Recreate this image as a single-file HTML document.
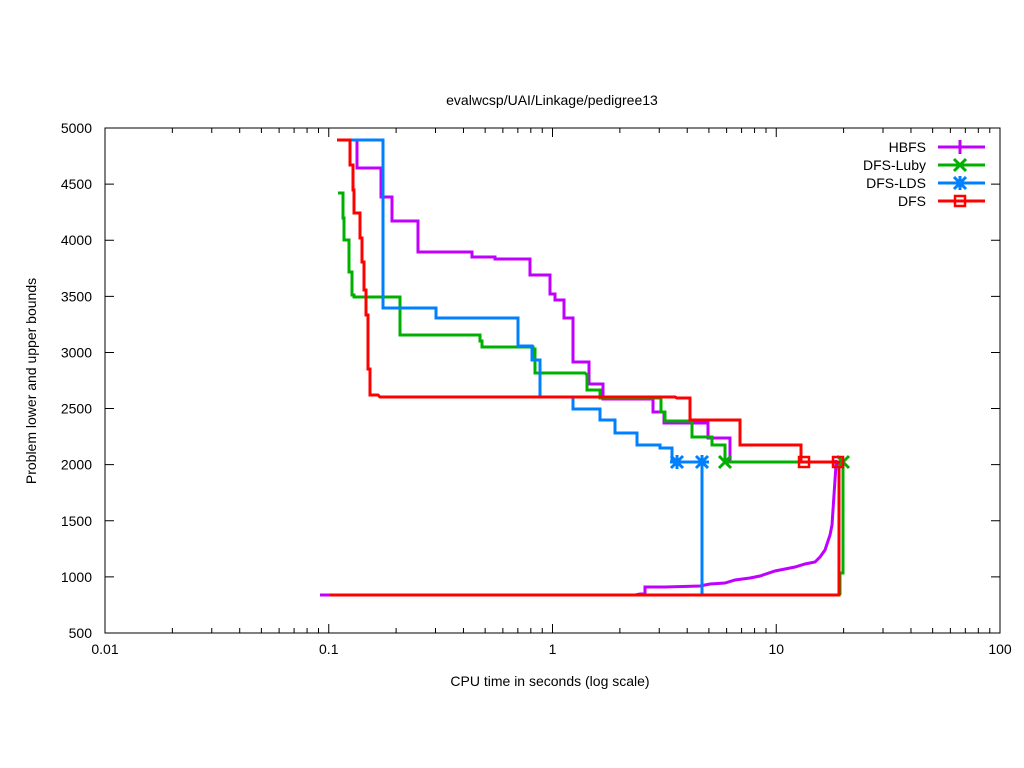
<!DOCTYPE html>
<html><head><meta charset="utf-8"><style>body{margin:0;background:#fff}svg{display:block;font-family:"Liberation Sans",sans-serif;font-size:14px}</style></head>
<body>
<svg id="s" width="1024" height="768" xmlns="http://www.w3.org/2000/svg">
<rect width="1024" height="768" fill="#fff"/>
<text x="552" y="105" text-anchor="middle">evalwcsp/UAI/Linkage/pedigree13</text>
<text x="550" y="686" text-anchor="middle">CPU time in seconds (log scale)</text>
<text transform="translate(36,381) rotate(-90)" text-anchor="middle">Problem lower and upper bounds</text>
<g id="ax" stroke="#000" stroke-width="1" fill="none"></g>
<g id="lab"></g>
<g fill="none" stroke-width="3" stroke-linejoin="miter">
<polyline stroke="#c000ff" points="337,140 357,140 357,168 381,168 381,197 392,197 392,221 418,221 418,252 472,252 472,257 495,257 495,259 530,259 530,275 550,275 550,294 555,294 555,300 564,300 564,318 573,318 573,362 589,362 589,384 603,384 603,399 653,399 653,412 664,412 664,423 708,423 708,438 730,438 730,462"/>
<polyline stroke="#c000ff" points="320,595 635,595 640,594 645,594 645,587 665,587 700,586 710,584 725,583 735,580 750,578 760,576 775,571 785,569 795,567 805,564 815,562 820,557 825,550 827,544 830,535 832,525 833,510 834,495 835,480 836,465 836,460"/>
<polyline stroke="#00b000" points="338,193 343,193 343,218 344,218 344,240 349,240 349,272 352,272 352,295 354,295 354,297 400,297 400,335 480,335 480,341 482,341 482,347 533,347 533,349 535,349 535,373 585,373 587,375 587,390 600,390 600,398 661,398 661,412 665,412 665,421 692,421 692,437 712,437 712,445 725,445 725,462 843,462 843,573 840,573 840,595"/>
<polyline stroke="#0080ff" points="350,140 383,140 383,308 436,308 436,318 518,318 518,346 532,346 532,360 540,360 540,397 573,397 573,409 600,409 600,420 615,420 615,433 637,433 637,445 660,445 660,448 672,448 672,462 702,462 702,595"/>
<polyline stroke="#ff0000" points="337,140 350,140 350,165 353,165 353,190 354,190 354,213 360,213 360,238 362,238 362,262 364,262 364,290 366,290 366,315 368,315 368,369 370,369 370,395 378,395 380,397 675,397 677,398 690,398 690,420 740,420 740,445 801,445 801,462 839,462 839,595 330,595"/>
</g>
<g stroke-width="3" fill="none">
<g stroke="#0080ff"><path d="M671,456l12,12M683,456l-12,12M670,462h14M677,455v14M696,456l12,12M708,456l-12,12M695,462h14M702,455v14"/></g>
<path stroke="#00b000" d="M719,456l12,12M731,456l-12,12M837,456l12,12M849,456l-12,12"/>
<g stroke="#ff0000" stroke-width="2.5"><rect x="799" y="457" width="10" height="10"/><rect x="833" y="457" width="10" height="10"/></g>
</g>
<g font-size="14" text-anchor="end">
<text x="926" y="152">HBFS</text><text x="926" y="170">DFS-Luby</text><text x="926" y="188">DFS-LDS</text><text x="926" y="206">DFS</text>
</g>
<g stroke-width="3" fill="none">
<path stroke="#c000ff" d="M938,147h47M960,140v14"/>
<path stroke="#00b000" d="M938,165h47"/><path stroke="#00b000" d="M954,159l12,12M966,159l-12,12"/>
<path stroke="#0080ff" d="M938,183h47"/><path stroke="#0080ff" d="M954,177l12,12M966,177l-12,12M953,183h14M960,176v14"/>
<path stroke="#ff0000" d="M938,201h47"/><rect x="955" y="196" width="10" height="10" stroke="#ff0000" stroke-width="2.5" fill="none"/>
</g>
</svg>
<script>
var ax=document.getElementById('ax'),lab=document.getElementById('lab'),NS='http://www.w3.org/2000/svg';
function el(p,t,a){var e=document.createElementNS(NS,t);for(var k in a)e.setAttribute(k,a[k]);p.appendChild(e);return e;}
var L=105,R=1000,T=128,B=633;
var d='M'+L+','+T+'H'+R+'V'+B+'H'+L+'Z';
for(var v=500;v<=5000;v+=500){var y=T+(5000-v)*(B-T)/4500;d+='M'+L+','+y+'h9M'+R+','+y+'h-9';
var t=el(lab,'text',{x:92,y:y+5,'text-anchor':'end'});t.textContent=v;}
var labs=['0.01','0.1','1','10','100'];
for(var i=0;i<=4;i++){var x=L+i*223.75;d+='M'+x+','+B+'v-9M'+x+','+T+'v9';
var t=el(lab,'text',{x:x,y:B+21,'text-anchor':'middle'});t.textContent=labs[i];
if(i<4)for(var k=2;k<10;k++){var xm=x+Math.log10(k)*223.75;d+='M'+xm+','+B+'v-5M'+xm+','+T+'v5';}}
el(ax,'path',{d:d});
</script>
</body></html>
